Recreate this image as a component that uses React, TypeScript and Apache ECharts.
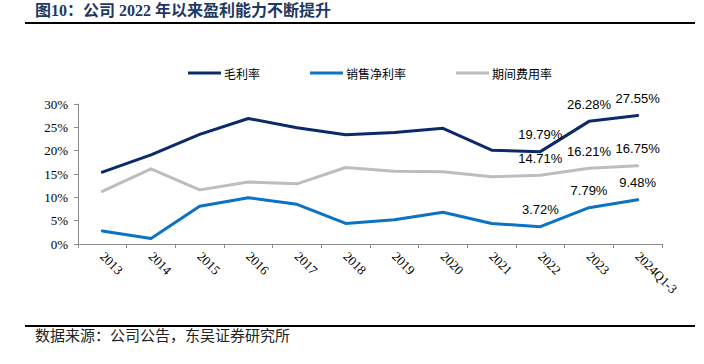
import React, { useEffect, useRef } from "react";
import * as echarts from "echarts";

const categories = ["2013", "2014", "2015", "2016", "2017", "2018", "2019", "2020", "2021", "2022", "2023", "2024Q1-3"];
const grossMargin = [15.4, 19.1, 23.5, 26.9, 24.9, 23.4, 23.9, 24.8, 20.1, 19.79, 26.28, 27.55];
const netMargin = [2.8, 1.2, 8.1, 9.9, 8.5, 4.4, 5.2, 6.8, 4.4, 3.72, 7.79, 9.48];
const expenseRatio = [11.3, 16.1, 11.6, 13.3, 12.9, 16.4, 15.6, 15.5, 14.4, 14.71, 16.21, 16.75];
const seriesNames = ["毛利率", "销售净利率", "期间费用率"];
const labelFrom = 9;
const titleText = "图10：公司 2022 年以来盈利能力不断提升";
const sourceText = "数据来源：公司公告，东吴证券研究所";

export default function App() {
  const ref = useRef<HTMLDivElement>(null);
  useEffect(() => {
    if (!ref.current) return;
    const chart = echarts.init(ref.current, null, { renderer: "svg" });
    const mkLabel = {
      show: true,
      position: "top",
      distance: 10,
      fontSize: 13,
      color: "#000",
      fontFamily: "'Liberation Sans', Arial, sans-serif",
      formatter: (p: any) => (p.dataIndex >= labelFrom ? Number(p.value).toFixed(2) + "%" : ""),
    };
    const mk = (name: string, data: number[], color: string) => ({
      name,
      type: "line",
      data,
      symbol: "circle",
      symbolSize: 1,
      showSymbol: true,
      lineStyle: { color, width: 3, cap: "round", join: "round" },
      itemStyle: { color },
      label: mkLabel,
      labelLayout: { hideOverlap: false },
    });
    chart.setOption({
      animation: false,
      backgroundColor: "#fff",
      graphic: [
        {
          type: "text",
          left: 35,
          top: 2,
          style: {
            text: titleText,
            fontSize: 16,
            fontWeight: "bold",
            fill: "#1F3864",
            fontFamily: "'Liberation Serif', 'Noto Sans CJK SC', serif",
          },
        },
        { type: "line", shape: { x1: 25, y1: 23, x2: 695, y2: 23 }, style: { stroke: "#000", lineWidth: 2 } },
        { type: "line", shape: { x1: 25, y1: 326, x2: 695, y2: 326 }, style: { stroke: "#000", lineWidth: 2 } },
        {
          type: "text",
          left: 35,
          top: 327,
          style: {
            text: sourceText,
            fontSize: 15,
            fill: "#222",
            fontFamily: "'Noto Sans CJK SC', sans-serif",
          },
        },
      ],
      legend: {
        left: 183,
        top: 62,
        itemWidth: 33,
        itemHeight: 3,
        itemGap: 50,
        icon: "rect",
        textStyle: { fontSize: 12, color: "#000", fontFamily: "'Noto Sans CJK SC', sans-serif", padding: [0, 0, 0, -2] },
        data: seriesNames,
      },
      grid: { left: 78, right: 42, top: 104, bottom: 120, containLabel: false },
      xAxis: {
        type: "category",
        data: categories,
        boundaryGap: true,
        axisLine: { lineStyle: { color: "#8c8c8c", width: 1 } },
        axisTick: { show: true, length: 4, alignWithLabel: false, lineStyle: { color: "#8c8c8c" } },
        axisLabel: {
          rotate: -45,
          margin: 10,
          fontSize: 13,
          color: "#000",
          fontFamily: "'Liberation Serif', 'Times New Roman', serif",
          interval: 0,
        },
      },
      yAxis: {
        type: "value",
        min: 0,
        max: 30,
        interval: 5,
        splitLine: { show: false },
        axisLine: { show: true, lineStyle: { color: "#8c8c8c", width: 1 } },
        axisTick: { show: true, length: 4, lineStyle: { color: "#8c8c8c" } },
        axisLabel: {
          formatter: "{value}%",
          margin: 10,
          fontSize: 13,
          color: "#000",
          fontFamily: "'Liberation Serif', 'Times New Roman', serif",
        },
      },
      series: [
        mk(seriesNames[0], grossMargin, "#0C2A6A"),
        mk(seriesNames[1], netMargin, "#0B72C4"),
        mk(seriesNames[2], expenseRatio, "#BDBDBD"),
      ],
    });
    return () => chart.dispose();
  }, []);
  return <div ref={ref} style={{ position: "absolute", left: 0, top: 0, width: 704, height: 364 }} />;
}
